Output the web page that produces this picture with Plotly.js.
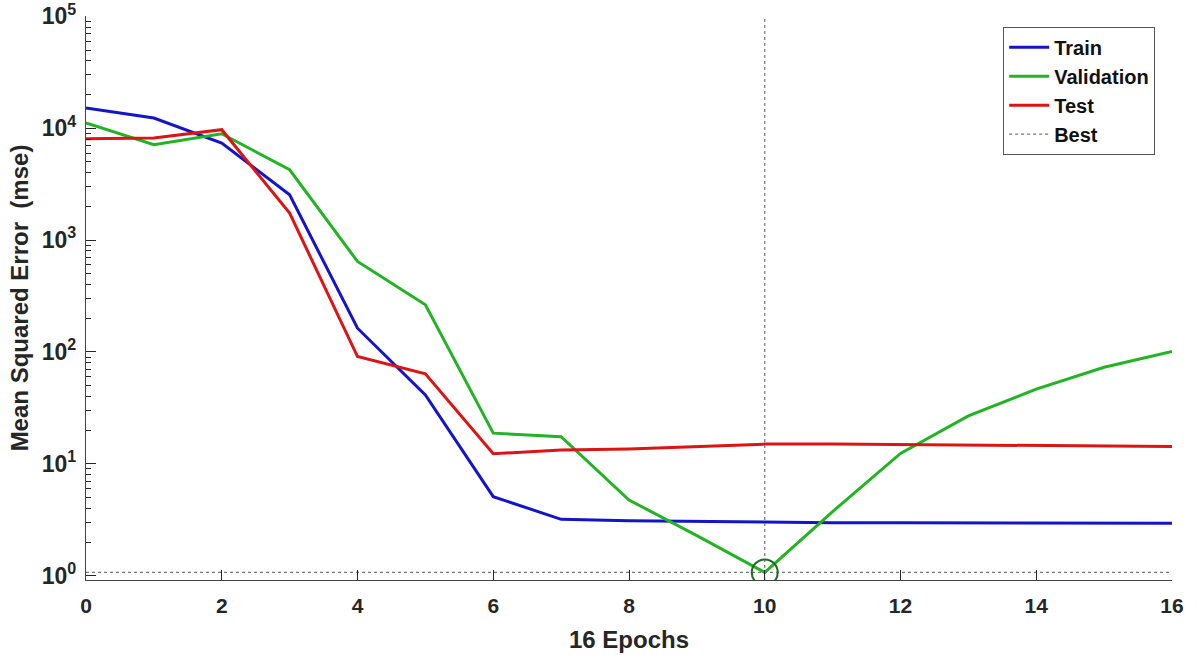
<!DOCTYPE html>
<html>
<head>
<meta charset="utf-8">
<script src="https://cdn.plot.ly/plotly-3.0.1.min.js"></script>
<style>html,body{margin:0;padding:0;background:#fff;}#chart{width:1197px;height:655px;}</style>
</head>
<body>
<div id="chart"></div>
<script>
const epochs = [0,1,2,3,4,5,6,7,8,9,10,11,12,13,14,15,16];
const trainMSE = [15170,12340,7380,2540,163,41.3,5.09,3.19,3.10,3.05,2.99,2.98,2.97,2.97,2.96,2.96,2.95];
const valMSE = [11140,7120,8930,4250,644,264,18.8,17.5,4.75,2.28,1.07,3.74,12.4,26.8,46.5,73,101];
const testMSE = [8055,8170,9700,1743,91,63.7,12.3,13.3,13.6,14.3,15.0,15.0,14.9,14.8,14.6,14.5,14.3];
const bestEpoch = 10;
const bestValue = 1.07;
const yDecades = [0,1,2,3,4,5];
const yTickText = yDecades.map(d => '10<sup>' + d + '</sup>');
const xTicks = [0,2,4,6,8,10,12,14,16];
const yRangeLog = [-0.0385, 5.003];

const txt = '#262626';
const fontFam = 'Arial, "Liberation Sans", Helvetica, sans-serif';

const traces = [
  {x: epochs, y: trainMSE, name: 'Train', mode: 'lines', line: {color: '#1414c8', width: 3}},
  {x: epochs, y: valMSE, name: 'Validation', mode: 'lines', line: {color: '#22b422', width: 3}},
  {x: epochs, y: testMSE, name: 'Test', mode: 'lines', line: {color: '#dc1414', width: 3}},
  {x: [epochs[0], epochs[epochs.length-1], null, bestEpoch, bestEpoch],
   y: [bestValue, bestValue, null, Math.pow(10, yRangeLog[0]), Math.pow(10, yRangeLog[1])],
   name: 'Best', mode: 'lines', line: {color: '#777777', width: 1.2, dash: 'dot'}},
  {x: [bestEpoch], y: [bestValue], mode: 'markers', showlegend: false,
   marker: {symbol: 'circle-open', size: 26, color: '#1e6e1e', line: {width: 2, color: '#1e6e1e'}}}
];

const layout = {
  width: 1197, height: 655,
  margin: {l: 86, r: 25, t: 16, b: 75},
  paper_bgcolor: '#ffffff', plot_bgcolor: '#ffffff',
  font: {family: fontFam, color: txt, weight: 'bold'},
  showlegend: true,
  legend: {
    x: 0.9845, y: 0.981, xanchor: 'right', yanchor: 'top',
    bgcolor: '#ffffff', bordercolor: '#555555', borderwidth: 1,
    font: {size: 20, family: fontFam, color: '#111', weight: 'bold'},
    tracegroupgap: 0, itemwidth: 40
  },
  xaxis: {
    range: [0, 16], tickvals: xTicks, ticks: 'inside', ticklen: 10, tickcolor: txt,
    showline: true, linecolor: '#444', linewidth: 1.2, mirror: false,
    showgrid: false, zeroline: false, ticklabelstandoff: 7, ticklabeloverflow: 'allow',
    tickfont: {size: 21, family: fontFam, color: txt, weight: 'bold'},
    title: {text: '16 Epochs', font: {size: 24, family: fontFam, color: txt, weight: 'bold'}, standoff: 14}
  },
  yaxis: {
    type: 'log', range: yRangeLog,
    tickvals: yDecades.map(d => Math.pow(10, d)), ticktext: yTickText,
    ticks: 'inside', ticklen: 10, tickcolor: txt,
    minor: {ticks: 'inside', ticklen: 5, tickcolor: txt, dtick: 'D1', showgrid: false},
    showline: true, linecolor: '#444', linewidth: 1.2, mirror: false,
    showgrid: false, zeroline: false, ticklabelstandoff: 4, ticklabeloverflow: 'allow',
    tickfont: {size: 23, family: fontFam, color: txt, weight: 'bold'},
    title: {text: 'Mean Squared Error  (mse)', font: {size: 24, family: fontFam, color: txt, weight: 'bold'}, standoff: 6}
  }
};

Plotly.newPlot('chart', traces, layout, {displayModeBar: false, staticPlot: true});
</script>
</body>
</html>
